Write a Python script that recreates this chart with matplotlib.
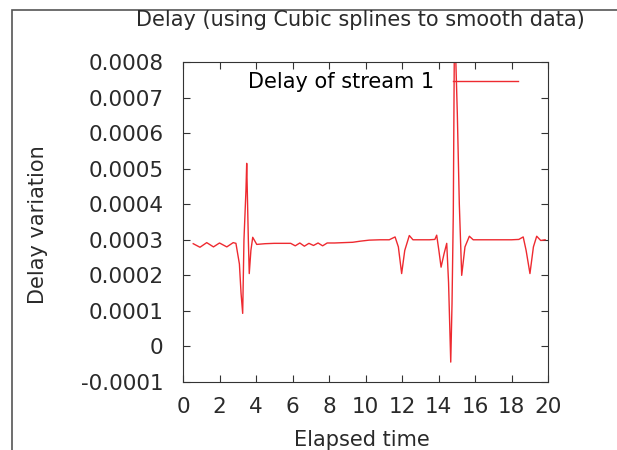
import matplotlib
matplotlib.use("Agg")
import matplotlib.pyplot as plt
from matplotlib.patches import Rectangle
from matplotlib.ticker import FuncFormatter

# elapsed time and delay variation
t = [0.56, 0.93, 1.3, 1.67, 2.0, 2.4, 2.75, 2.9, 3.09, 3.18, 3.27, 3.34, 3.45, 3.49,
     3.53, 3.58, 3.63, 3.72, 3.82, 4.04, 4.5, 5.0, 5.5, 5.9, 6.15, 6.4, 6.65, 6.9,
     7.15, 7.4, 7.65, 7.9, 8.3, 8.8, 9.3, 9.7, 10.2, 10.8, 11.3, 11.62, 11.8, 11.98,
     12.15, 12.4, 12.6, 13.0, 13.5, 13.8, 13.9, 14.02, 14.14, 14.3, 14.45, 14.55,
     14.67, 14.74, 14.81, 14.88, 14.95, 15.03, 15.14, 15.27, 15.45, 15.69, 15.9,
     16.5, 17.0, 17.5, 18.0, 18.4, 18.64, 18.8, 19.01, 19.2, 19.38, 19.6, 19.84]
delay = [0.000289, 0.000279, 0.000292, 0.000280, 0.000291, 0.000280, 0.000292,
         0.000290, 0.000232, 0.000150, 0.000093, 0.000300, 0.000440, 0.000515,
         0.000420, 0.000300, 0.000205, 0.000270, 0.000307, 0.000287, 0.000289,
         0.000290, 0.000290, 0.000290, 0.000283, 0.000291, 0.000282, 0.000290,
         0.000284, 0.000291, 0.000283, 0.000291, 0.000291, 0.000292, 0.000293,
         0.000296, 0.000299, 0.000300, 0.000300, 0.000308, 0.000280, 0.000205,
         0.000270, 0.000312, 0.000300, 0.000300, 0.000300, 0.000301, 0.000313,
         0.000270, 0.000223, 0.000260, 0.000290, 0.000180, -0.000044, 0.000120,
         0.000374, 0.000950, 0.000800, 0.000655, 0.000400, 0.000200, 0.000280,
         0.000310, 0.000300, 0.000300, 0.000300, 0.000300, 0.000300, 0.000301,
         0.000308, 0.000270, 0.000205, 0.000280, 0.000310, 0.000298, 0.000300]

plt.rcParams['font.family'] = ['DejaVu Sans']
txt = '#2a2a2a'

fig = plt.figure(figsize=(6.17, 4.5), dpi=100)
ax = fig.add_axes([0.2966, 0.1511, 0.5916, 0.7111])

# grey frame of the original gnuplot window
fig.patches.append(Rectangle((12 / 617, -0.1), 1.2, 1.1 - 10 / 450, transform=fig.transFigure,
                             fill=False, edgecolor='#555555', linewidth=1.2))

ax.plot(t, delay, color='#ee2a30', linewidth=1, label='Delay of stream 1')
ax.set_xlim(0, 20)
ax.set_ylim(-0.0001, 0.0008)
ax.set_xticks(range(0, 21, 2))
ax.set_yticks([i * 0.0001 for i in range(-1, 9)])
ax.yaxis.set_major_formatter(FuncFormatter(lambda v, p: '0' if abs(v) < 1e-9 else '%.4f' % v))
ax.tick_params(direction='in', top=True, right=True, length=5, labelsize=15.5,
               colors='#333333', labelcolor=txt)
ax.tick_params(axis='x', pad=11)
ax.tick_params(axis='y', pad=14)
for s in ax.spines.values():
    s.set_color('#333333')

fig.text(360 / 617, 1 - 20 / 450, 'Delay (using Cubic splines to smooth data)', fontsize=15,
         color=txt, ha='center', va='center')
fig.text(362 / 617, 1 - 440 / 450, 'Elapsed time', fontsize=15, color=txt,
         ha='center', va='center')
fig.text(38 / 617, 1 - 225 / 450, 'Delay variation', fontsize=15, color=txt,
         ha='center', va='center', rotation=90)

ax.legend(loc='upper right', frameon=False, markerfirst=False, fontsize=15,
          handlelength=3.1, handletextpad=0.9, borderaxespad=0.0,
          bbox_to_anchor=(0.94, 0.995))

fig.savefig('out.png', dpi=100)
